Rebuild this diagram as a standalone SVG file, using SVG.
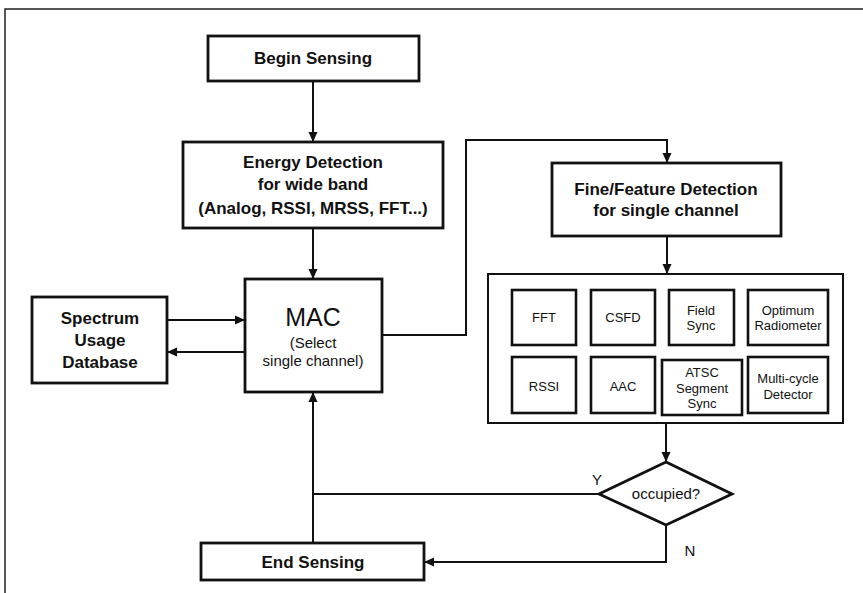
<svg xmlns="http://www.w3.org/2000/svg" width="863" height="593" viewBox="0 0 863 593">
<style>
.box{fill:#fff;stroke:#111;stroke-width:2.8}
.sbox{fill:#fff;stroke:#111;stroke-width:2.6}
.cont{fill:#fff;stroke:#111;stroke-width:2}
.ln{fill:none;stroke:#111;stroke-width:2}
.b{font-family:"Liberation Sans",Arial,sans-serif;font-weight:bold;font-size:17px;fill:#111;text-anchor:middle}
.r{font-family:"Liberation Sans",Arial,sans-serif;font-size:15px;fill:#111;text-anchor:middle}
.s{font-family:"Liberation Sans",Arial,sans-serif;font-size:13px;fill:#111;text-anchor:middle}
</style>
<defs>
<marker id="ah" markerUnits="userSpaceOnUse" markerWidth="10" markerHeight="10" viewBox="0 0 10 10" refX="10" refY="5" orient="auto">
<path d="M0,0.5 L10,5 L0,9.5 z" fill="#111"/>
</marker>
</defs>
<rect width="863" height="593" fill="#fff"/>
<path d="M5,593 L5,9 L863,9" fill="none" stroke="#222" stroke-width="1.5"/>

<g id="connectors">
<path class="ln" d="M313,81 L313,142" marker-end="url(#ah)"/>
<path class="ln" d="M313,228 L313,279" marker-end="url(#ah)"/>
<path class="ln" d="M167,320 L245,320" marker-end="url(#ah)"/>
<path class="ln" d="M245,352 L167,352" marker-end="url(#ah)"/>
<path class="ln" d="M382,335 L466,335 L466,140 L667,140 L667,163" marker-end="url(#ah)"/>
<path class="ln" d="M667,236 L667,274" marker-end="url(#ah)"/>
<path class="ln" d="M666,423 L666,462" marker-end="url(#ah)"/>
<path class="ln" d="M599,494 L313,494"/>
<path class="ln" d="M313,543 L313,392" marker-end="url(#ah)"/>
<path class="ln" d="M666,525 L666,562 L424,562" marker-end="url(#ah)"/>
<text class="r" x="597" y="485">Y</text>
<text class="r" x="690" y="556">N</text>
</g>

<g id="begin">
<rect class="box" x="208" y="36" width="211" height="45"/>
<text class="b" x="313" y="64">Begin Sensing</text>
</g>
<g id="energy">
<rect class="box" x="183" y="142" width="260" height="86"/>
<text class="b" x="313" y="168">Energy Detection</text>
<text class="b" x="313" y="190">for wide band</text>
<text class="b" x="313" y="214">(Analog, RSSI, MRSS, FFT...)</text>
</g>
<g id="mac">
<rect class="box" x="245" y="279" width="137" height="113"/>
<text x="313" y="326" font-family="Liberation Sans,Arial,sans-serif" font-size="25" fill="#111" text-anchor="middle">MAC</text>
<text class="r" x="313" y="348">(Select</text>
<text class="r" x="313" y="366">single channel)</text>
</g>
<g id="spectrum">
<rect class="box" x="32" y="297" width="135" height="86"/>
<text class="b" x="100" y="324">Spectrum</text>
<text class="b" x="100" y="346">Usage</text>
<text class="b" x="100" y="368">Database</text>
</g>
<g id="fine">
<rect class="box" x="552" y="163" width="229" height="73"/>
<text class="b" x="666" y="195">Fine/Feature Detection</text>
<text class="b" x="666" y="216">for single channel</text>
</g>
<g id="detectors">
<rect class="cont" x="488" y="274" width="355" height="149"/>
<g id="fft"><rect class="sbox" x="512" y="290" width="64" height="55"/><text class="s" x="544" y="322">FFT</text></g>
<g id="csfd"><rect class="sbox" x="591" y="290" width="64" height="55"/><text class="s" x="623" y="322">CSFD</text></g>
<g id="field"><rect class="sbox" x="669" y="290" width="65" height="55"/><text class="s" x="701" y="315">Field</text><text class="s" x="701" y="330">Sync</text></g>
<g id="optimum"><rect class="sbox" x="748" y="290" width="80" height="55"/><text class="s" x="788" y="315">Optimum</text><text class="s" x="788" y="330">Radiometer</text></g>
<g id="rssi"><rect class="sbox" x="512" y="357" width="64" height="56"/><text class="s" x="544" y="391">RSSI</text></g>
<g id="aac"><rect class="sbox" x="591" y="357" width="64" height="56"/><text class="s" x="623" y="391">AAC</text></g>
<g id="atsc"><rect class="sbox" x="662" y="360" width="80" height="55"/><text class="s" x="702" y="377">ATSC</text><text class="s" x="702" y="393">Segment</text><text class="s" x="702" y="408">Sync</text></g>
<g id="multi"><rect class="sbox" x="748" y="357" width="80" height="56"/><text class="s" x="788" y="383">Multi-cycle</text><text class="s" x="788" y="399">Detector</text></g>
</g>
<g id="occupied">
<path d="M666,462 L732,494 L666,525 L599,494 z" fill="#fff" stroke="#111" stroke-width="2.8"/>
<text class="r" x="666" y="499">occupied?</text>
</g>
<g id="end">
<rect class="box" x="201" y="543" width="223" height="37"/>
<text class="b" x="313" y="568">End Sensing</text>
</g>
</svg>
